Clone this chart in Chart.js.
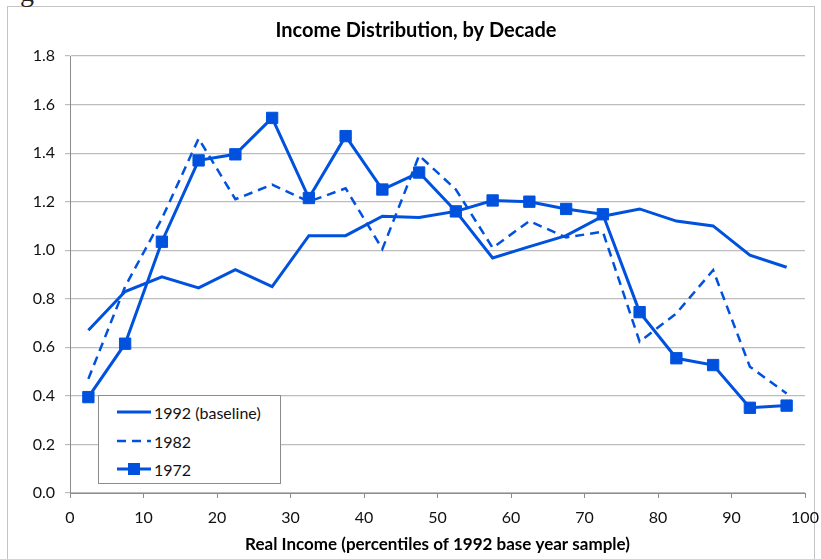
<!DOCTYPE html>
<html>
<head>
<meta charset="utf-8">
<script src="https://cdn.jsdelivr.net/npm/chart.js@4/dist/chart.umd.min.js"></script>
<style>
  html, body { margin: 0; padding: 0; background: #fff; overflow: hidden; }
  #wrap { position: relative; width: 821px; height: 559px; }
  #frame { position: absolute; left: 7px; top: 6px; width: 808px; height: 600px; border: 1px solid #c4c4c4; box-sizing: border-box; }
  #stray { position: absolute; left: 20px; top: -24px; font: 28px "Liberation Serif", serif; color: #222; }
  #chart { position: absolute; left: 0; top: 0; }
  #legend {
    position: absolute; left: 98px; top: 395px; width: 183px; height: 89px;
    box-sizing: border-box; border: 1.5px solid #8c8c8c; background: #fff;
    font: 16px Lato, sans-serif; color: #111;
  }
  #legend .row { position: absolute; left: 18px; height: 20px; display: flex; align-items: center; }
  #legend svg { margin-right: 3px; }
</style>
</head>
<body>
<div id="wrap">
  <div id="frame"></div>
  <div id="stray">g</div>
  <canvas id="chart" width="821" height="559"></canvas>
  <div id="legend"></div>
</div>
<script>
// percentile midpoints (x)
const percentiles = [2.5, 7.5, 12.5, 17.5, 22.5, 27.5, 32.5, 37.5, 42.5, 47.5,
  52.5, 57.5, 62.5, 67.5, 72.5, 77.5, 82.5, 87.5, 92.5, 97.5];

const income1992 = [0.67, 0.83, 0.89, 0.845, 0.92, 0.85, 1.06, 1.06, 1.14, 1.135,
  1.16, 0.968, 1.015, 1.06, 1.14, 1.17, 1.12, 1.10, 0.98, 0.93];
const income1982 = [0.47, 0.85, 1.13, 1.46, 1.21, 1.27, 1.20, 1.255, 1.005, 1.39,
  1.25, 1.01, 1.12, 1.053, 1.076, 0.623, 0.74, 0.918, 0.52, 0.41];
const income1972 = [0.395, 0.615, 1.035, 1.37, 1.395, 1.545, 1.215, 1.47, 1.25, 1.32,
  1.16, 1.205, 1.20, 1.17, 1.148, 0.745, 0.555, 0.527, 0.351, 0.36];

const seriesLabels = ['1992 (baseline)', '1982', '1972'];
const xTicks = [0, 10, 20, 30, 40, 50, 60, 70, 80, 90, 100];
const yTicks = [0, 0.2, 0.4, 0.6, 0.8, 1.0, 1.2, 1.4, 1.6, 1.8];

const BLUE = '#0052de';
const toPoints = (vals) => vals.map((v, i) => ({ x: percentiles[i], y: v }));

const datasets = [
  { label: seriesLabels[0], data: toPoints(income1992), borderColor: BLUE, borderWidth: 3,
    pointRadius: 0, borderDash: [] },
  { label: seriesLabels[1], data: toPoints(income1982), borderColor: BLUE, borderWidth: 2.5,
    pointRadius: 0, borderDash: [9, 6] },
  { label: seriesLabels[2], data: toPoints(income1972), borderColor: BLUE, borderWidth: 3,
    pointStyle: 'rect', pointRadius: 8, pointBackgroundColor: BLUE, pointBorderColor: BLUE,
    pointBorderWidth: 1, borderDash: [] },
];
datasets.forEach(d => { d.tension = 0; d.fill = false; d.backgroundColor = BLUE; });

const tickFont = { family: 'Lato', size: 16 };

const chart = new Chart(document.getElementById('chart'), {
  type: 'line',
  data: { datasets },
  options: {
    responsive: false,
    animation: false,
    events: [],
    // wider left padding nudges the title right, as in the original
    layout: { padding: { left: 27, right: 16, top: 8, bottom: 0 } },
    plugins: {
      legend: { display: false },
      tooltip: { enabled: false },
      title: {
        display: true,
        text: 'Income Distribution, by Decade',
        color: '#000',
        font: { family: 'Lato', size: 20, weight: 'bold' },
        padding: { top: 11, bottom: 13 },
      },
    },
    scales: {
      x: {
        type: 'linear',
        min: xTicks[0],
        max: xTicks[xTicks.length - 1],
        afterBuildTicks: (s) => { s.ticks = xTicks.map(v => ({ value: v })); },
        afterFit: (s) => { s.height = 66; s.paddingRight = 0; s.paddingLeft = 0; },
        ticks: { font: tickFont, color: '#111', padding: 10, maxRotation: 0 },
        grid: { drawOnChartArea: false, drawTicks: true, tickLength: 5, color: '#8c8c8c' },
        border: { color: '#8c8c8c' },
        title: {
          display: true,
          text: 'Real Income (percentiles of 1992 base year sample)',
          color: '#000',
          font: { family: 'Lato', size: 17, weight: 'bold' },
          padding: { top: 0, bottom: 4 },
        },
      },
      y: {
        min: yTicks[0],
        max: yTicks[yTicks.length - 1],
        afterBuildTicks: (s) => { s.ticks = yTicks.map(v => ({ value: v })); },
        afterFit: (s) => { s.width = 43; },
        ticks: { font: tickFont, color: '#111', padding: 10, callback: (v) => v.toFixed(1) },
        grid: { color: '#bdbdbd', tickLength: 5, lineWidth: 1.2 },
        border: { color: '#8c8c8c' },
      },
    },
  },
});

// legend box inside the plot, built from the datasets
const legend = document.getElementById('legend');
const rowTops = [6, 35, 63];
chart.data.datasets.forEach((d, i) => {
  const row = document.createElement('div');
  row.className = 'row';
  row.style.top = rowTops[i] + 'px';
  const dash = d.borderDash && d.borderDash.length ? `stroke-dasharray="${d.borderDash.join(' ')}"` : '';
  const marker = d.pointRadius ? `<rect x="11" y="4" width="12" height="12" fill="${d.borderColor}"/>` : '';
  row.innerHTML = `<svg width="34" height="20"><line x1="0" y1="10" x2="34" y2="10" stroke="${d.borderColor}" stroke-width="${d.borderWidth}" ${dash}/>${marker}</svg><span>${d.label}</span>`;
  legend.appendChild(row);
});
</script>
</body>
</html>
